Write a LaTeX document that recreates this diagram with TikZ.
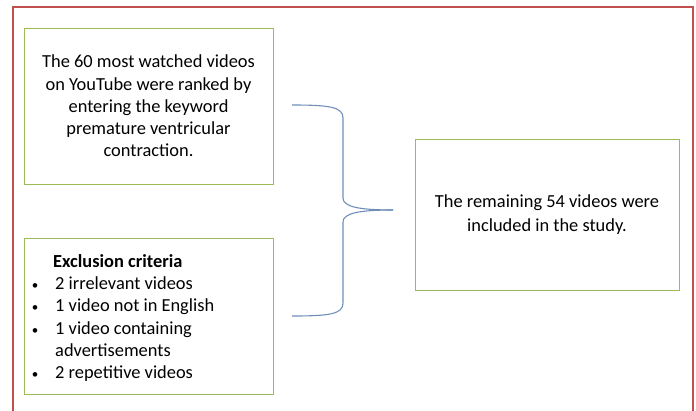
\documentclass[tikz,border=0pt]{standalone}
\usepackage{fontspec}
\setmainfont{Carlito}
\definecolor{framered}{HTML}{C0504D}
\definecolor{boxgreen}{HTML}{9BBB59}
\definecolor{braceblue}{HTML}{6F8FB8}
\begin{document}
\begin{tikzpicture}[x=1pt,y=-1pt,
  txt/.style={font=\fontsize{18.4}{22.3}\selectfont},
  box/.style={draw=boxgreen,line width=0.9pt,inner sep=0pt,txt},
  item/.style={anchor=base west,inner sep=0pt,txt},
  bul/.style={anchor=base,inner sep=0pt,font=\fontsize{13}{13}\selectfont},
  bracepath/.style={draw=braceblue,line width=1.1pt}]
\useasboundingbox (0,0) rectangle (696,410);
\draw[framered,line width=1.4pt] (13,411) -- (13,7) -- (693,7) -- (693,411);
\node[box,minimum width=249pt,minimum height=156pt,align=center] (top) at (148.5,106)
  {The 60 most watched videos\\on YouTube were ranked by\\entering the keyword\\premature ventricular\\contraction.};
\node[box,minimum width=249pt,minimum height=156pt] (excl) at (148.5,316) {};
\node[item,font=\fontsize{18.4}{22.3}\selectfont\bfseries] (exh) at (53,267) {Exclusion criteria};
\foreach \i/\t/\y in {1/2 irrelevant videos/289,2/1 video not in English/311,3/1 video containing/334,5/2 repetitive videos/378}{
  \node[item] (it\i) at (55,\y) {\t};
  \node[bul] (b\i) at (35,\y) {•};
}
\node[item] (it4) at (55,356) {advertisements};
\node[box,minimum width=264pt,minimum height=151pt,align=center,font=\fontsize{18.4}{24.5}\selectfont] (res) at (547,214.5)
  {The remaining 54 videos were\\included in the study.};
\coordinate (btop) at (292,105);
\coordinate (bbot) at (292,316);
\coordinate (btip) at (393,210);
\draw[bracepath] (btop) .. controls (330,105) and (343,107) .. (343,118) -- (343,198)
  .. controls (343,207) and (360,210) .. (btip);
\draw[bracepath] (bbot) .. controls (330,316) and (343,314) .. (343,303) -- (343,222)
  .. controls (343,213) and (360,210) .. (btip);
\end{tikzpicture}
\end{document}
